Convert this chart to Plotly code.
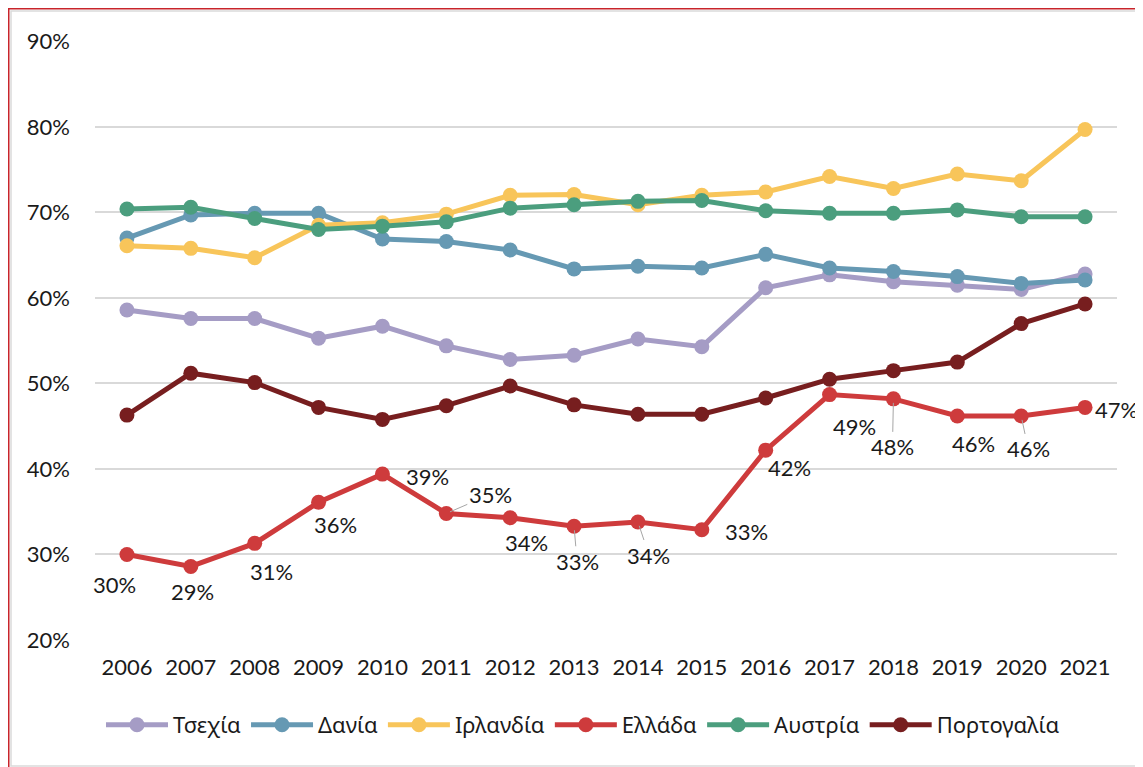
import plotly.graph_objects as go

years = [str(y) for y in range(2006, 2022)]

tsechia = [58.6, 57.6, 57.6, 55.3, 56.7, 54.4, 52.8, 53.3, 55.2, 54.3, 61.2, 62.7, 61.9, 61.5, 61.0, 62.8]
dania = [67.0, 69.7, 69.9, 69.9, 66.9, 66.6, 65.6, 63.4, 63.7, 63.5, 65.1, 63.5, 63.1, 62.5, 61.7, 62.1]
irlandia = [66.1, 65.8, 64.7, 68.5, 68.8, 69.8, 72.0, 72.1, 70.9, 72.0, 72.4, 74.2, 72.8, 74.5, 73.7, 79.7]
ellada = [30.0, 28.6, 31.3, 36.1, 39.4, 34.8, 34.3, 33.3, 33.8, 32.9, 42.2, 48.7, 48.2, 46.2, 46.2, 47.2]
austria = [70.4, 70.6, 69.3, 68.0, 68.4, 68.9, 70.5, 70.9, 71.3, 71.4, 70.2, 69.9, 69.9, 70.3, 69.5, 69.5]
portogalia = [46.3, 51.2, 50.1, 47.2, 45.8, 47.4, 49.7, 47.5, 46.4, 46.4, 48.3, 50.5, 51.5, 52.5, 57.0, 59.3]

series_names = ["Τσεχία", "Δανία", "Ιρλανδία", "Ελλάδα", "Αυστρία", "Πορτογαλία"]
series_values = [tsechia, dania, irlandia, ellada, austria, portogalia]
colors = ["#A59CC5", "#6699B3", "#F8C55A", "#CE3B3C", "#4B9E7E", "#771E1F"]

# label offsets (pixels, +dy = downwards) for Greece data labels and leader lines
label_dx = [-12, 2, 17, 17, 45, 44, 16, 3, 11, 45, 24, 25, -1, 16, 7, 31]
label_dy = [30, 25, 28, 22, 2, -19, 25, 35, 33, 2, 17, 32, 48, 28, 33, 2]
label_leader = [False, False, False, False, False, True, False, True, True, False, False, False, True, False, True, False]

NUM_FONT = "Lato, Noto Sans, sans-serif"
TXT_FONT = "Noto Sans, sans-serif"
FS = 22

fig = go.Figure()
for name, vals, col in zip(series_names, series_values, colors):
    fig.add_trace(go.Scatter(
        x=years, y=vals, name=name, mode="lines+markers",
        line=dict(color=col, width=5),
        marker=dict(color=col, size=15),
        hoverinfo="skip",
    ))

for i, v in enumerate(ellada):
    fig.add_annotation(
        x=i, y=v, xref="x", yref="y",
        text=f"{round(v)}%",
        showarrow=True, arrowhead=0, arrowwidth=1,
        arrowcolor="#A6A6A6" if label_leader[i] else "rgba(0,0,0,0)",
        standoff=4,
        ax=label_dx[i], ay=label_dy[i], axref="pixel", ayref="pixel",
        font=dict(family=NUM_FONT, size=FS, color="#1a1a1a"),
    )

# page body has an 8px offset, so the figure starts at (8, 8) on screen
OFF = 8
L, R, T, B = 95 - OFF, 26 + OFF, 41 - OFF, 127 + OFF
W, H = 1143, 767
pw, ph = W - L - R, H - T - B
def px(xs):
    return (xs - OFF - L) / pw
def py(ys):
    return (H - B - (ys - OFF)) / ph

fig.add_shape(type="rect", xref="paper", yref="paper",
              x0=px(11), x1=px(1170), y0=py(766), y1=py(11),
              line=dict(color="#DADADA", width=1.5), layer="below")
fig.add_shape(type="rect", xref="paper", yref="paper",
              x0=px(8.5), x1=px(1190), y0=py(800), y1=py(8.5),
              line=dict(color="#C8242B", width=2), layer="below")

fig.update_layout(
    width=W, height=H,
    margin=dict(l=L, r=R, t=T, b=B),
    paper_bgcolor="white", plot_bgcolor="white",
    showlegend=True,
    legend=dict(orientation="h", x=px(583), xanchor="center", y=py(725), yanchor="middle",
                font=dict(family=TXT_FONT, size=FS, color="#1a1a1a"),
                itemwidth=62, tracegroupgap=0),
    xaxis=dict(type="category", range=[-0.5, 15.5], showgrid=False, showline=False,
               zeroline=False, ticks="",
               tickfont=dict(family=NUM_FONT, size=FS, color="#1a1a1a"),
               ticklabelstandoff=12),
    yaxis=dict(range=[20, 90.05], dtick=10, ticksuffix="%", showgrid=True,
               gridcolor="#D9D9D9", gridwidth=1.5, zeroline=False, showline=False,
               ticks="", tickfont=dict(family=NUM_FONT, size=FS, color="#1a1a1a"),
               ticklabelstandoff=24),
)

fig.write_html("out.html")
